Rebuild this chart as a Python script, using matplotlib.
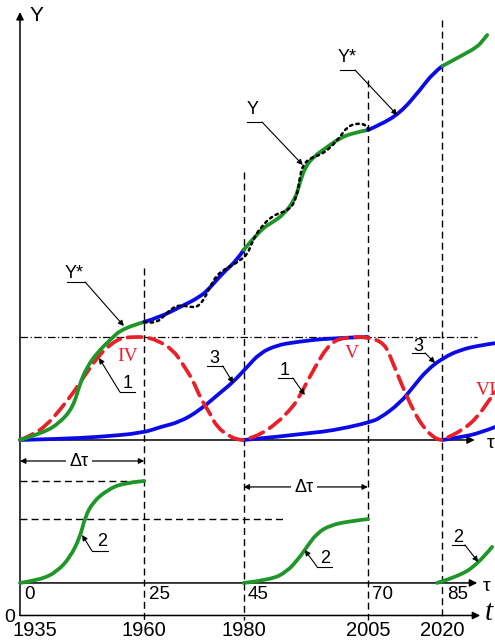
import matplotlib.pyplot as plt
from matplotlib.path import Path
from matplotlib.patches import PathPatch

# Values: t in years, levels in % of one cycle's height
# (main tau axis = 0, dash-dot line = 100).

# Y* / Y envelope, coloured piecewise
ENV_A_T = [1935, 1939.6, 1943.0, 1945.7, 1947.1, 1948.5, 1950.5, 1953.1, 1955.7, 1960]
ENV_A_V = [0, 6.8, 16.5, 32.0, 55.3, 70.9, 84.5, 97.1, 108.7, 114.6]
ENV_B_T = [1960, 1963.2, 1967.2, 1971.2, 1973.2, 1975.8, 1978.7, 1980]
ENV_B_V = [114.6, 119.4, 129.1, 138.8, 147.6, 162.1, 174.8, 184.5]
ENV_C_T = [1980, 1983.3, 1985.9, 1987.9, 1990.3, 1991.3, 1992.3, 1994.0, 1996.8, 1999.4, 2002.0, 2005]
ENV_C_V = [184.5, 203.9, 211.7, 218.4, 233.0, 249.5, 264.1, 274.8, 284.5, 293.2, 298.1, 301.0]
ENV_D_T = [2005, 2007.4, 2011.5, 2015.5, 2018.1, 2020]
ENV_D_V = [301.0, 305.8, 317.5, 339.8, 356.3, 363.1]
ENV_E_T = [2020, 2024.1, 2027.0, 2028.2, 2029.0]
ENV_E_V = [363.1, 373.8, 381.6, 388.3, 393.2]

# actual Y (dotted)
Y_T = [1960, 1960.6, 1962.6, 1963.8, 1965.6, 1967.2, 1969.2, 1970.8, 1972.2, 1973.2, 1974.6,
       1976.6, 1977.9, 1979.3, 1980.7, 1981.9, 1983.3, 1985.9, 1989.3, 1990.7, 1991.3, 1991.9,
       1993.4, 1995.4, 1997.4, 1999.4, 2000.8, 2002.8, 2004.8, 2005.2]
Y_V = [114.6, 113.6, 114.6, 119.4, 128.2, 131.1, 129.1, 129.1, 137.9, 148.5, 160.2,
       167.0, 170.0, 174.8, 179.6, 194.2, 205.8, 218.4, 223.3, 235.9, 255.3, 266.9,
       273.8, 276.7, 283.5, 294.2, 303.9, 307.8, 305.8, 301.0]

# curve 1 (red dashed), cycles IV, V, VI
C1_T = [1935, 1937.6, 1940.4, 1943.0, 1945.7, 1948.5, 1950.5, 1952.5, 1955.1, 1957.7, 1960,
        1962.6, 1965.8, 1967.6, 1969.8, 1971.2, 1973.2, 1974.6, 1977.3, 1979.3, 1980,
        1983.3, 1986.7, 1989.3, 1990.9, 1994.0, 1997.4, 2000.8, 2005,
        2008.4, 2010.0, 2012.0, 2014.1, 2016.1, 2018.1, 2019.5, 2020,
        2024.1, 2027.0, 2029.0, 2030.6]
C1_V = [0, 5, 14.6, 29, 45.6, 66, 79.6, 90, 99, 100, 100,
        97, 87.4, 74.8, 58, 41.7, 26, 12.6, 2.9, 0, 0,
        5, 16.5, 29, 39, 68, 95, 100, 100,
        94, 75, 51.5, 29, 12.6, 2.9, 0, 0,
        9.7, 22, 36, 46.6]

# curves 3 (blue)
C3A_T = [1935, 1943, 1951.1, 1959.7, 1963.2, 1967.2, 1971.2, 1975.2, 1977.9, 1980.7, 1983.3,
         1986.7, 1990.3, 1997.4, 2005]
C3A_V = [0, 1, 3, 6.8, 12.6, 17.5, 29, 45.6, 56.3, 70.9, 84.5, 92, 95, 99, 100]
C3B_T = [1980, 1994.8, 2001.4, 2005.4, 2007.4, 2011.5, 2014.1, 2016.9, 2020.1, 2023.5, 2027.6, 2030.6]
C3B_V = [0, 6.8, 12.6, 17.5, 21, 36, 51.5, 68, 79.6, 87.4, 92, 94]
C3C_T = [2020, 2024.1, 2027.6, 2030.6]
C3C_V = [0, 3, 7, 12.6]

# curves 2 (lower panel), height above the lower tau axis
C2A_T = [1935, 1939.0, 1942.4, 1945.1, 1947.1, 1948.1, 1949.7, 1952.5, 1955.7, 1960]
C2A_H = [0, 2.9, 10.7, 25, 44.7, 64, 78.6, 90, 97, 99]
C2B_T = [1980, 1985.3, 1988.7, 1991.3, 1992.7, 1994.8, 1997.4, 2001.4, 2005]
C2B_H = [0, 2.9, 10.7, 25, 35, 48.5, 56, 60, 62]
C2C_T = [2018.9, 2022.9, 2027.0, 2030.0]
C2C_H = [0, 5.8, 17.5, 35]

YEARS = [1935, 1960, 1980, 2005, 2020]
TAU_LABELS = ['0', '25', '45', '70', '85']
VLINE_TOPS = [167, 260, 349.5, 408]   # for 1960, 1980, 2005, 2020

LOWER_BASE = -138.8
T_AXIS = -170.4

GREEN = '#1e9628'
BLUE = '#0a0ae8'
RED = '#e8202a'
SANS = 'Liberation Sans'
SERIF = 'Liberation Serif'


def smooth(ax, t, v, **kw):
    """Draw a curve using the read points as quadratic Bezier controls."""
    pts = list(zip(t, v))
    verts = [pts[0]]
    codes = [Path.MOVETO]
    if len(pts) == 2:
        verts.append(pts[1])
        codes.append(Path.LINETO)
    for i in range(1, len(pts) - 1):
        if i < len(pts) - 2:
            end = ((pts[i][0] + pts[i + 1][0]) / 2, (pts[i][1] + pts[i + 1][1]) / 2)
        else:
            end = pts[-1]
        verts += [pts[i], end]
        codes += [Path.CURVE3, Path.CURVE3]
    ax.add_patch(PathPatch(Path(verts, codes), fill=False, capstyle='round',
                           joinstyle='round', **kw))


fig = plt.figure(figsize=(4.95, 6.4), dpi=100)
ax = fig.add_axes([0, 0, 1, 1])
ax.set_xlim(1930.98, 2030.57)
ax.set_ylim(-194.2, 427.2)
ax.axis('off')

arrow_kw = dict(arrowstyle='-|>', color='k', lw=1.1, mutation_scale=11, shrinkA=0, shrinkB=0)

# axes
ax.annotate('', xy=(1935, 415.5), xytext=(1935, T_AXIS), arrowprops=arrow_kw)
ax.annotate('', xy=(2026.5, 0), xytext=(1935, 0), arrowprops=arrow_kw)
ax.annotate('', xy=(2027.0, LOWER_BASE), xytext=(1935, LOWER_BASE), arrowprops=arrow_kw)
ax.annotate('', xy=(2027.6, T_AXIS), xytext=(1935, T_AXIS), arrowprops=arrow_kw)

ax.text(1938.4, 411.7, 'Y', fontsize=15, family=SANS, ha='center', va='center')
ax.text(2029.6, -3.5, 'τ', fontsize=14, family=SANS, ha='center', va='center')
ax.text(2028.8, -142.0, 'τ', fontsize=14, family=SANS, ha='center', va='center')
ax.text(2029.3, -168.0, 't', fontsize=21, family=SERIF, style='italic', ha='center', va='center')
ax.text(1933.0, -172.5, '0', fontsize=14, family=SANS, ha='center', va='center')

# vertical dashed guides
for yr, top in zip(YEARS[1:], VLINE_TOPS):
    ax.plot([yr, yr], [top, -174.8], color='k', lw=1.0, dashes=(5, 3))

for yr, lab in zip(YEARS, TAU_LABELS):
    ax.text(yr + 0.9, -150.5, lab, fontsize=13.5, family=SANS, ha='left', va='center')
    ax.text(yr if yr != 1935 else 1938.0, -185.2, str(yr), fontsize=14.5, family=SANS,
            ha='center', va='center')

# dash-dot cycle level and lower dashed levels
ax.plot([1935, 2027], [100, 100], color='k', lw=0.9, dashes=(6, 2, 1, 2))
ax.plot([1935, 1960], [LOWER_BASE + 99, LOWER_BASE + 99], color='k', lw=1.0, dashes=(5, 3))
ax.plot([1935, 1988.4], [LOWER_BASE + 62, LOWER_BASE + 62], color='k', lw=1.0, dashes=(5, 3))

# delta tau spans
for (x0, x1, v, tx) in [(1935, 1960, -20.4, 1946.9), (1980, 2005, -45.6, 1992.1)]:
    ax.annotate('', xy=(x1, v), xytext=(x0, v),
                arrowprops=dict(arrowstyle='<|-|>', color='k', lw=0.9, mutation_scale=8,
                                shrinkA=0, shrinkB=0))
    ax.text(tx, v - 0.6, 'Δτ', fontsize=13, family=SANS, ha='center', va='center',
            bbox=dict(facecolor='white', edgecolor='none', pad=2.5))

# curves
for t, v in [(C3A_T, C3A_V), (C3B_T, C3B_V), (C3C_T, C3C_V)]:
    smooth(ax, t, v, edgecolor=BLUE, lw=2.7, zorder=3)
smooth(ax, C1_T, C1_V, edgecolor=RED, lw=2.7, linestyle=(0, (3.8, 2.0)), zorder=4)

for t, v, c in [(ENV_A_T, ENV_A_V, GREEN), (ENV_B_T, ENV_B_V, BLUE), (ENV_C_T, ENV_C_V, GREEN),
                (ENV_D_T, ENV_D_V, BLUE), (ENV_E_T, ENV_E_V, GREEN)]:
    smooth(ax, t, v, edgecolor=c, lw=2.7, zorder=5)
smooth(ax, Y_T, Y_V, edgecolor='k', lw=1.8, linestyle=(0, (1, 1.6)), zorder=6)

for t, h in [(C2A_T, C2A_H), (C2B_T, C2B_H), (C2C_T, C2C_H)]:
    smooth(ax, t, [LOWER_BASE + x for x in h], edgecolor=GREEN, lw=2.7, zorder=5)

# red cycle numbers
ax.text(1956.7, 80.6, 'IV', color=RED, fontsize=14, family=SERIF, ha='center', va='center')
ax.text(2001.8, 83.5, 'V', color=RED, fontsize=14, family=SERIF, ha='center', va='center')
ax.text(2028.7, 48.5, 'VI', color=RED, fontsize=14, family=SERIF, ha='center', va='center')

# labels with underline and leader
LEADERS = [
    ('Y*', (1945.9, 162.1), (1944.5, 1948.1), 153.4, (1955.9, 110.7), False),
    ('1', (1956.7, 54.4), (1955.1, 1958.1), 46.6, (1950.9, 79.6), True),
    ('3', (1974.2, 79.6), (1972.6, 1975.8), 71.8, (1977.9, 55.3), False),
    ('1', (1988.3, 67.0), (1986.9, 1989.9), 60.2, (1992.3, 43.7), False),
    ('3', (2015.1, 90.3), (2013.9, 2016.5), 84.5, (2018.5, 74.8), False),
    ('Y', (1981.9, 320.4), (1980.7, 1983.7), 308.7, (1991.9, 267.0), False),
    ('Y*', (2000.8, 370.9), (1999.4, 2002.4), 359.2, (2010.9, 315.5), False),
    ('2', (1951.5, -99.0), (1949.5, 1952.7), -107.8, (1947.5, -92.2), True),
    ('2', (1996.4, -115.5), (1994.8, 1997.8), -123.3, (1992.3, -106.8), True),
    ('2', (2023.1, -95.1), (2021.9, 2024.5), -101.9, (2027.2, -118.4), False),
]
for text, pos, ux, uy, tip, from_left in LEADERS:
    ax.text(pos[0], pos[1], text, fontsize=13, family=SANS, ha='center', va='center', zorder=7)
    ax.plot(ux, [uy, uy], color='k', lw=0.8, zorder=7)
    start = (ux[0] if from_left else ux[1], uy)
    ax.annotate('', xy=tip, xytext=start, zorder=7,
                arrowprops=dict(arrowstyle='-|>', color='k', lw=0.8, mutation_scale=8,
                                shrinkA=0, shrinkB=0))

fig.savefig('out.png', dpi=100)
